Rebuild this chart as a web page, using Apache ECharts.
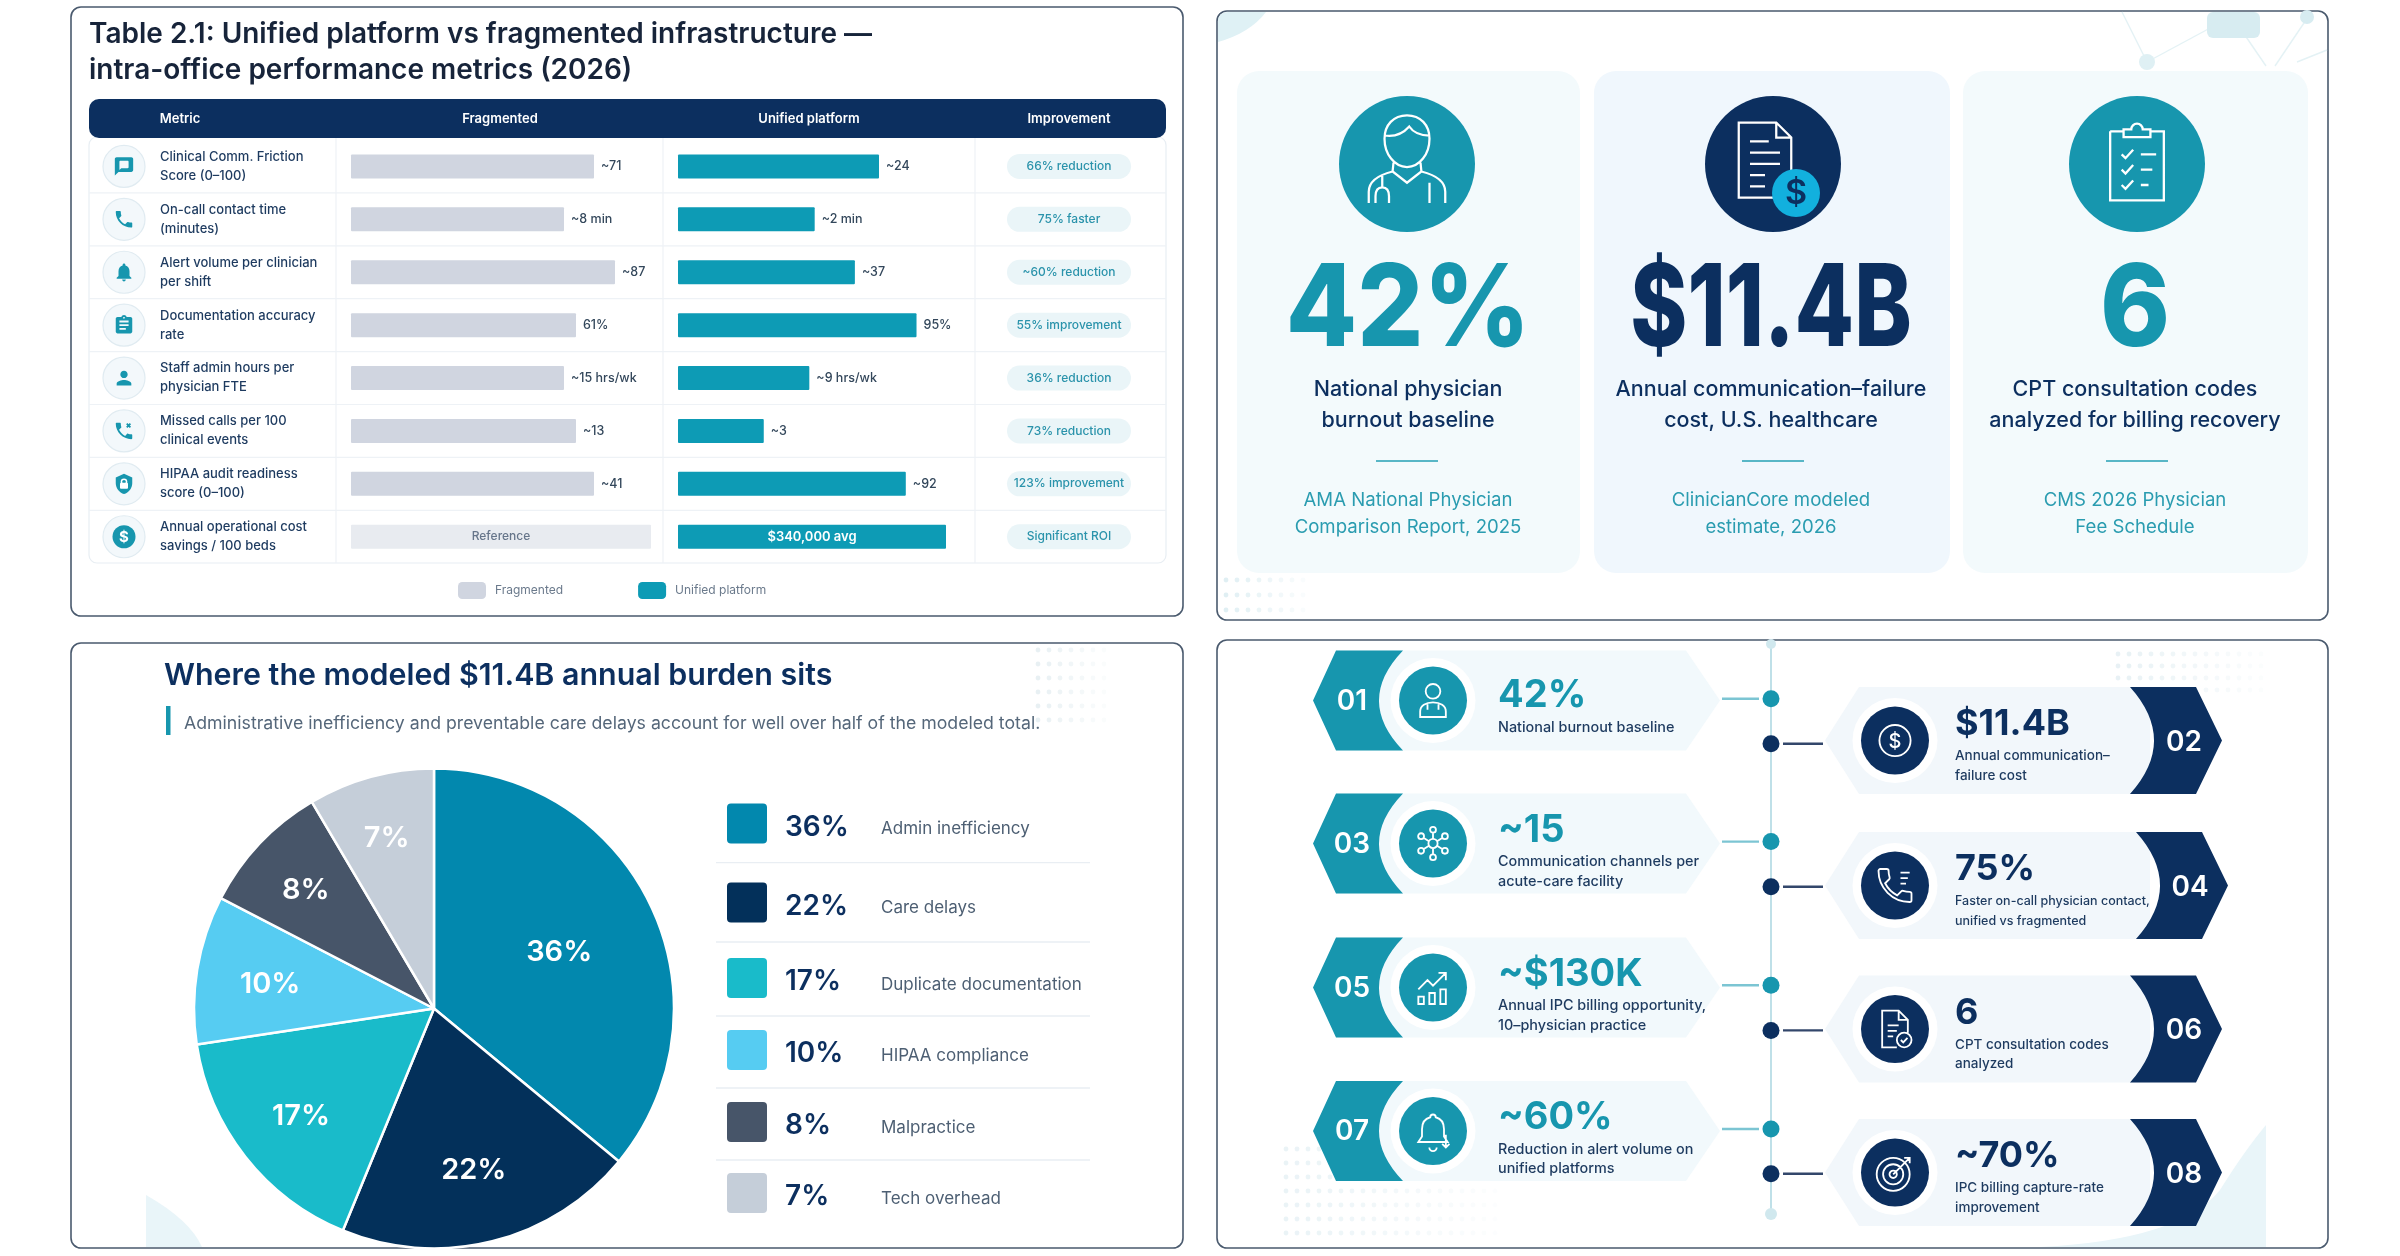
<!DOCTYPE html>
<html>
  <head>
    <meta charset="utf-8" />
    <title>Unified platform metrics</title>
    <script src="https://cdn.jsdelivr.net/npm/echarts@6/dist/echarts.min.js"></script>
    <style>
      html, body { margin: 0; padding: 0; background: #ffffff; }
      #main { width: 2400px; height: 1256px; }
    </style>
  </head>
  <body>
    <div id="main"></div>

    <script type="text/javascript">
      // Table 2.1
      const metrics = [
        'Clinical Comm. Friction\nScore (0–100)', 'On-call contact time\n(minutes)',
        'Alert volume per clinician\nper shift', 'Documentation accuracy\nrate',
        'Staff admin hours per\nphysician FTE', 'Missed calls per 100\nclinical events',
        'HIPAA audit readiness\nscore (0–100)', 'Annual operational cost\nsavings / 100 beds'
      ];
      // bar lengths as drawn in the picture (longest bar = 100)
      const fragmentedLevel = [81, 71, 88, 75, 71, 75, 81, 100];
      const unifiedLevel = [75, 51, 66, 89, 49, 32, 85, 100];
      const fragmentedLabels = ['~71', '~8 min', '~87', '61%', '~15 hrs/wk', '~13', '~41', 'Reference'];
      const unifiedLabels = ['~24', '~2 min', '~37', '95%', '~9 hrs/wk', '~3', '~92', '$340,000 avg'];
      const improvements = ['66% reduction', '75% faster', '~60% reduction', '55% improvement', '36% reduction', '73% reduction', '123% improvement', 'Significant ROI'];
      const tableHeaders = ['Metric', 'Fragmented', 'Unified platform', 'Improvement'];

      // stat cards
      const statValues = ['42%', '$11.4B', '6'];
      const statCaptions = ['National physician\nburnout baseline', 'Annual communication–failure\ncost, U.S. healthcare', 'CPT consultation codes\nanalyzed for billing recovery'];
      const statSources = ['AMA National Physician\nComparison Report, 2025', 'ClinicianCore modeled\nestimate, 2026', 'CMS 2026 Physician\nFee Schedule'];

      // burden pie: printed percentages, and the shares the slices actually take up in the picture
      const pieNames = ['Admin inefficiency', 'Care delays', 'Duplicate documentation', 'HIPAA compliance', 'Malpractice', 'Tech overhead'];
      const pieValues = [36, 22, 17, 10, 8, 7];
      const pieDrawnShare = [36, 20.2, 16.4, 10, 8.9, 8.5];

      // timeline
      const timelineNumbers = ['01', '02', '03', '04', '05', '06', '07', '08'];
      const timelineValues = ['42%', '$11.4B', '~15', '75%', '~$130K', '6', '~60%', '~70%'];
      const timelineNotes = [
        'National burnout baseline', 'Annual communication–\nfailure cost',
        'Communication channels per\nacute-care facility', 'Faster on-call physician contact,\nunified vs fragmented',
        'Annual IPC billing opportunity,\n10–physician practice', 'CPT consultation codes\nanalyzed',
        'Reduction in alert volume on\nunified platforms', 'IPC billing capture-rate\nimprovement'
      ];

      const FONT = 'Inter';
      const NAVY = '#0c2f5f';
      const TEAL = '#1796ae';
      const PIE_COLORS = ['#0288ae', '#03305a', '#19bbca', '#56ccf2', '#475569', '#c5ced9'];

      var myChart = echarts.init(document.getElementById('main'));
      const els = [];

      // ---- small helpers for the graphic layer
      let shapeCount = 0;
      function pathEl(d, style, x, y, scale) {
        const name = 'shape' + (shapeCount++);
        echarts.graphic.registerShape(name, echarts.graphic.extendPath(d, {}));
        return { type: name, x: x || 0, y: y || 0, scaleX: scale || 1, scaleY: scale || 1, style: style, silent: true };
      }
      function icon(d, cx, cy, size, style) {
        els.push(pathEl(d, style, cx - size / 2, cy - size / 2, size / 24));
      }
      function text(str, x, y, size, color, weight, align, lineHeight, squeeze) {
        els.push({
          type: 'text', x: x, y: y, silent: true, scaleX: squeeze || 1,
          style: {
            text: str, fill: color, fontFamily: FONT, fontSize: size, fontWeight: weight || 400,
            textAlign: align || 'left', textVerticalAlign: 'middle', align: align || 'left', verticalAlign: 'middle',
            lineHeight: lineHeight
          }
        });
      }
      function rect(x, y, w, h, r, fill, stroke, lw) {
        els.push({ type: 'rect', silent: true, shape: { x: x, y: y, width: w, height: h, r: r }, style: { fill: fill, stroke: stroke, lineWidth: lw || 0 } });
      }
      function line(x1, y1, x2, y2, color, lw) {
        els.push({ type: 'line', silent: true, shape: { x1: x1, y1: y1, x2: x2, y2: y2 }, style: { stroke: color, lineWidth: lw } });
      }
      function circle(cx, cy, r, fill, stroke, lw) {
        els.push({ type: 'circle', silent: true, shape: { cx: cx, cy: cy, r: r }, style: { fill: fill, stroke: stroke, lineWidth: lw || 0 } });
      }
      function dots(x0, y0, nx, ny, dx, dy, color) {
        for (let j = 0; j < ny; j++) {
          for (let i = 0; i < nx; i++) {
            els.push({ type: 'circle', silent: true, shape: { cx: x0 + i * dx, cy: y0 + j * dy, r: 2.4 }, style: { fill: color, opacity: 0.5 * (1 - i / nx) + 0.05 } });
          }
        }
      }
      const c = (x, y, r) => 'M' + x + ' ' + (y - r) + 'a' + r + ' ' + r + ' 0 1 0 .01 0z';

      // ---- icon outlines, 24 box
      const PHONE = 'M6.62 10.79c1.44 2.83 3.76 5.14 6.59 6.59l2.2-2.2c.27-.27.67-.36 1.02-.24 1.12.37 2.33.57 3.57.57.55 0 1 .45 1 1V20c0 .55-.45 1-1 1-9.39 0-17-7.61-17-17 0-.55.45-1 1-1h3.5c.55 0 1 .45 1 1 0 1.25.2 2.45.57 3.57.11.35.03.74-.25 1.02l-2.2 2.2z';
      const BELL = 'M12 22c1.1 0 2-.9 2-2h-4c0 1.1.89 2 2 2zm6-6v-5c0-3.07-1.64-5.64-4.5-6.32V4c0-.83-.67-1.5-1.5-1.5s-1.5.67-1.5 1.5v.68C7.63 5.36 6 7.92 6 11v5l-2 2v1h16v-1l-2-2z';
      const PERSON = 'M12 12c2.21 0 4-1.79 4-4s-1.79-4-4-4-4 1.79-4 4 1.79 4 4 4zm0 2c-2.67 0-8 1.34-8 4v2h16v-2c0-2.66-5.33-4-8-4z';
      const CHAT = 'M20 2H4c-1.1 0-2 .9-2 2v18l4-4h14c1.1 0 2-.9 2-2V4c0-1.1-.9-2-2-2z';
      const CLIP = 'M19 3h-4.18C14.4 1.84 13.3 1 12 1s-2.4.84-2.82 2H5c-1.1 0-2 .9-2 2v14c0 1.1.9 2 2 2h14c1.1 0 2-.9 2-2V5c0-1.1-.9-2-2-2zm-7 0c.55 0 1 .45 1 1s-.45 1-1 1-1-.45-1-1 .45-1 1-1zm2 14H7v-2h7v2zm3-4H7v-2h10v2zm0-4H7V7h10v2z';
      const SHIELD = 'M12 1L3 5v6c0 5.55 3.84 10.74 9 12 5.16-1.26 9-6.45 9-12V5l-9-4z';
      const DOCTOR = 'M12 2.5c-3 0-5 2.2-5 5.2 0 3.4 2.2 6.3 5 6.3s5-2.9 5-6.3c0-3-2-5.2-5-5.2zM7 7c2 .3 4-.3 5.5-2 .8 1.2 2.4 2 4.5 2M9 13l-.2 2 3.2 2.5 3.2-2.5L15 13M8.8 15C6 15.7 3.5 17 3.5 19.5V22M15.2 15c2.8.7 5.3 2 5.3 4.5V22M6.5 16v2.5M5 22v-1.5c0-1.5.7-2 1.500-2s1.5.5 1.5 2V22M17 17.500V22';
      const DOC = 'M5 2h10l4 4v16H5zM15 2v4h4M8 7h5M8 10h8M8 13h8M8 16h4M8 19h4';
      const CLIPCHECK = 'M5 4h3.5M15.5 4H19v18H5V4M8.5 5.500V3.500h2a1.5 1.5 0 0 1 3 0h2v2zM8 10l1 1 2-2.200M13 10h4M8 14l1 1 2-2.200M13 14h3M8 18l1 1 2-2.200M13 18h2';
      const DOCTOR_SMALL = c(12, 7, 4) + 'M5 21v-3c0-3 3-5 7-5s7 2 7 5v3zM9 14v3M15 14v3';
      const DOLLAR_RING = c(12, 12, 8.5);
      const NETWORK = c(12, 12, 2.5) + 'M12 9.500V6M12 14.500V18M9.800 10.800L7 9M14.200 10.800L17 9M9.800 13.200L7 15M14.200 13.200L17 15' + c(12, 4.5, 1.6) + c(12, 19.5, 1.6) + c(5.5, 8, 1.6) + c(18.5, 8, 1.6) + c(5.5, 16, 1.6) + c(18.5, 16, 1.6);
      const CHART = 'M4 13l5-5 3 3 7-7M15 4h4v4M4 21v-4h3v4zM10 21v-6h3v6zM16 21v-8h3v8z';
      const DOCCHECK = 'M13 22H5V2h9l5 5v7M14 2v5h5M8 10h6M8 13h5M8 16h3' + c(17, 18, 4) + 'M15.200 18l1.300 1.300 2.300-2.500';
      const BELL_DOWN = 'M12 3a1.500 1.500 0 0 1 1.500 1.500c3 .8 4.500 3.500 4.500 6.500v4l2 3H4l2-3v-4c0-3 1.500-5.700 4.500-6.500A1.500 1.500 0 0 1 12 3zM10 21a2 2 0 0 0 4 0M19 14v7M17 19l2 2 2-2';
      const TARGET = c(11, 13, 9) + c(11, 13, 5.5) + c(11, 13, 2) + 'M11 13L20 4M17 4h3v3';

      // ---- panels
      rect(71, 7, 1112, 609, 10, '#ffffff', '#4a5a6e', 1.6);
      rect(1217, 11, 1111, 609, 10, '#ffffff', '#4a5a6e', 1.6);
      rect(71, 643, 1112, 605, 10, '#ffffff', '#4a5a6e', 1.6);
      rect(1217, 640, 1111, 608, 10, '#ffffff', '#4a5a6e', 1.6);

      // ---- table panel
      const tableGridTop = 140, rowH = 52.9;
      rect(89, 137, 1077, 426, 8, '#ffffff', '#e8eef3', 1.2);
      rect(89, 99, 1077, 39, 10, NAVY);
      [180, 500, 809, 1069].forEach((x, i) => text(tableHeaders[i], x, 119, 13, '#ffffff', 600, 'center'));
      [336, 663, 975].forEach(x => line(x, 138, x, 563, '#eef2f6', 1.2));
      const rowIcons = [CHAT, PHONE, BELL, CLIP, PERSON, PHONE, SHIELD, null];
      metrics.forEach((m, i) => {
        const cy = tableGridTop + rowH * (i + 0.5);
        if (i > 0) line(89, tableGridTop + rowH * i, 1166, tableGridTop + rowH * i, '#eef2f6', 1.2);
        circle(124, cy, 21, '#f3f8fb', '#e0ebf1', 1.2);
        if (rowIcons[i]) icon(rowIcons[i], 124, cy, 22, { fill: TEAL });
        if (i === 0) { icon(CHAT, 124, cy - 1, 11, { fill: '#f3f8fb' }); }
        if (i === 5) { icon('M15 4l4 4M19 4l-4 4', 124, cy, 22, { stroke: TEAL, lineWidth: 2, fill: 'none' }); }
        if (i === 6) { rect(120, cy - 1, 8, 6, 1, '#ffffff'); circle(124, cy - 2, 2.6, 'none', '#ffffff', 1.5); }
        if (i === 7) { circle(124, cy, 11.5, TEAL); text('$', 124, cy + 1, 15, '#ffffff', 700, 'center'); }
        rect(1007, cy - 12.5, 124, 25, 12.5, '#eaf5f8');
        text(improvements[i], 1069, cy, 12, '#2a93ab', 500, 'center');
      });

      // ---- stat cards panel
      els.push(pathEl('M1218 42L1218 22Q1218 12 1228 12L1266 12Q1250 33 1218 42Z', { fill: '#dff1f5' }));
      [[2122, 12, 2147, 62], [2147, 62, 2225, 20], [2266, 66, 2240, 28], [2275, 66, 2306, 20], [2297, 62, 2327, 50]].forEach(p => line(p[0], p[1], p[2], p[3], '#e4f2f5', 1.4));
      circle(2147, 62, 8, '#dff0f4');
      circle(2307, 17, 7, '#d7ecf1');
      rect(2207, 12, 53, 26, 6, '#d7ecf1');
      dots(1226, 580, 8, 3, 11, 15, '#c7e2ea');
      const cardRects = [[1237, 343, '#f3fafc'], [1594, 356, '#f0f7fd'], [1963, 345, '#f3fafc']];
      const circleX = [1407, 1773, 2137];
      const statTextX = [1408, 1771, 2135];
      const statColor = [TEAL, NAVY, TEAL];
      const statSqueeze = [0.91, 0.76, 0.93];
      statValues.forEach((v, i) => {
        rect(cardRects[i][0], 71, cardRects[i][1], 502, 22, cardRects[i][2]);
        circle(circleX[i], 164, 68, statColor[i]);
        text(v, statTextX[i], 312, 114, statColor[i], 800, 'center', undefined, statSqueeze[i]);
        text(statCaptions[i], statTextX[i], 405.5, 21.5, NAVY, 500, 'center', 31);
        line(circleX[i] - 31, 461, circleX[i] + 31, 461, '#58b6c6', 2);
        text(statSources[i], statTextX[i], 513.5, 18.6, '#2a9cb0', 400, 'center', 27);
      });
      const lineIcon = (d, cx, cy, size, color, lw) => icon(d, cx, cy, size, { stroke: color, lineWidth: lw, fill: 'none' });
      lineIcon(DOCTOR, 1407, 158, 108, '#ffffff', 0.5);
      lineIcon(DOC, 1765, 160, 90, '#ffffff', 0.6);
      circle(1796, 193, 24, '#12b0de');
      text('$', 1796, 194, 34, NAVY, 600, 'center');
      lineIcon(CLIPCHECK, 2137, 162, 92, '#ffffff', 0.6);

      // ---- pie panel
      els.push(pathEl('M146 1195Q190 1220 202 1247L146 1247Z', { fill: '#e9f5f9' }));
      dots(1038, 650, 7, 6, 11, 14, '#d5e3ea');
      rect(166, 706, 4.5, 29, 0, TEAL);
      text('Administrative inefficiency and preventable care delays account for well over half of the modeled total.', 184, 724, 17.7, '#55677a', 400);
      const legendRow = [823.5, 902.5, 978, 1050, 1122, 1193];
      const percentRow = [828, 907, 982, 1054, 1126, 1197];
      const nameRow = [829, 908, 985, 1056, 1128, 1199];
      const legendRule = [862.6, 942, 1016, 1088, 1160];
      legendRule.forEach(y => line(716, y, 1090, y, '#e9eef3', 1.4));
      pieNames.forEach((n, i) => {
        rect(727, legendRow[i] - 20, 40, 40, 4, PIE_COLORS[i]);
        text(pieValues[i] + '%', 785, percentRow[i], 28, NAVY, 600);
        text(n, 881, nameRow[i], 17, '#4d5f73', 400);
      });

      // ---- timeline panel
      dots(2118, 654, 14, 4, 11, 12, '#d5e6ec');
      dots(1286, 1149, 20, 7, 11, 14, '#d8e9ef');
      els.push(pathEl('M2040 1247Q2180 1240 2220 1190Q2245 1150 2266 1125L2266 1247Z', { fill: '#e9f5f9' }));
      line(1771, 642, 1771, 1215, '#bfe0e8', 2);
      circle(1771, 644, 5, '#d0e8ee');
      circle(1771, 1214, 6, '#d0e8ee');

      const timelineIcons = [DOCTOR_SMALL, DOLLAR_RING, NETWORK, PHONE, CHART, DOCCHECK, BELL_DOWN, TARGET];
      const leftCenter = [700.5, 843.5, 987.5, 1131];
      const leftDot = [698.7, 841.6, 985.3, 1129];
      const rightCenter = [740.6, 885.5, 1029, 1172.5];
      const rightDot = [743.8, 886.7, 1030.4, 1173.7];
      for (let k = 0; k < 4; k++) {
        // odd-numbered cards, left of the spine
        let i = k * 2, cy = leftCenter[k], t = cy - 50, b = cy + 50;
        line(1722, leftDot[k], 1759, leftDot[k], '#7cc5d3', 2.4);
        circle(1771, leftDot[k], 8.5, TEAL);
        els.push(pathEl('M1336 ' + t + 'L1686 ' + t + 'L1720 ' + cy + 'L1686 ' + b + 'L1336 ' + b + 'Z', { fill: '#f2f9fc' }));
        els.push(pathEl('M1313 ' + cy + 'L1336 ' + t + 'L1403 ' + t + 'Q1355 ' + cy + ' 1403 ' + b + 'L1336 ' + b + 'Z', { fill: TEAL }));
        circle(1433, cy, 42.5, '#ffffff');
        circle(1433, cy, 34, TEAL);
        lineIcon(timelineIcons[i], 1433, cy, 44, '#ffffff', 1);
        text(timelineNumbers[i], 1352, cy + 1, 28, '#ffffff', 600, 'center');
        const two = timelineNotes[i].indexOf('\n') > 0;
        text(timelineValues[i], 1498, cy + (two ? -13 : -4.5), 38, TEAL, 700);
        text(timelineNotes[i], 1498, cy + (two ? 28 : 27), 14.4, '#1d3a5f', 500, 'left', 19.5);

        // even-numbered cards, right of the spine
        i = k * 2 + 1; cy = rightCenter[k]; t = cy - 53.5; b = cy + 53.5;
        const sh = k === 1 ? 6 : 0;
        line(1783, rightDot[k], 1823, rightDot[k], '#33476b', 2.4);
        circle(1771, rightDot[k], 8.5, NAVY);
        els.push(pathEl('M1825 ' + cy + 'L1859 ' + t + 'L2150 ' + t + 'L2150 ' + b + 'L1859 ' + b + 'Z', { fill: '#f2f7fb' }));
        els.push(pathEl('M' + (2130 + sh) + ' ' + t + 'L' + (2196 + sh) + ' ' + t + 'L' + (2222 + sh) + ' ' + cy + 'L' + (2196 + sh) + ' ' + b + 'L' + (2130 + sh) + ' ' + b + 'Q' + (2178 + sh) + ' ' + cy + ' ' + (2130 + sh) + ' ' + t + 'Z', { fill: NAVY }));
        circle(1895, cy, 42.5, '#ffffff');
        circle(1895, cy, 34, NAVY);
        lineIcon(timelineIcons[i], 1895, cy, 44, '#ffffff', 1);
        if (k === 0) text('$', 1895, cy + 1, 20, '#ffffff', 500, 'center');
        if (k === 1) { lineIcon('M15 5h5M15 8h4M15 11h3', 1895, cy, 44, '#ffffff', 1); }
        text(timelineNumbers[i], 2184 + sh, cy + 2, 28, '#ffffff', 600, 'center');
        text(timelineValues[i], 1955, cy - 16, 36, NAVY, 700);
        text(timelineNotes[i], 1955, cy + 25.5, k === 1 ? 12.5 : 13.5, '#1d3a5f', 500, 'left', 19.5);
      }

      // ---- pie label reach: distance of each label from the pie centre
      const PIE_X = 434, PIE_Y = 1008.5, PIE_R = 240;
      const labelReach = [135, 160, 165, 162, 172, 175];

      const barLabel = { fontFamily: FONT, fontSize: 12.5, color: '#33475b', fontWeight: 500, distance: 7, position: 'right' };

      const option = {
        animation: false,
        backgroundColor: '#ffffff',
        textStyle: { fontFamily: FONT },
        title: [
          {
            text: 'Table 2.1: Unified platform vs fragmented infrastructure —\nintra-office performance metrics (2026)',
            left: 89, top: 17, padding: 0,
            textStyle: { fontFamily: FONT, fontSize: 28, fontWeight: 600, color: '#17243a', lineHeight: 36 }
          },
          {
            text: 'Where the modeled $11.4B annual burden sits',
            left: 164, top: 657, padding: 0,
            textStyle: { fontFamily: FONT, fontSize: 30.4, fontWeight: 600, color: NAVY, lineHeight: 38 }
          }
        ],
        legend: {
          left: 458, top: 582, itemWidth: 28, itemHeight: 17, itemGap: 75, padding: 0,
          selectedMode: false,
          icon: 'roundRect',
          data: ['Fragmented', 'Unified platform'],
          textStyle: { fontFamily: FONT, fontSize: 12, color: '#6b7a8c', padding: [0, 0, 0, 4] }
        },
        grid: [
          { left: 351, top: tableGridTop, width: 300, height: rowH * 8 },
          { left: 678, top: tableGridTop, width: 268, height: rowH * 8 }
        ],
        xAxis: [
          { type: 'value', gridIndex: 0, min: 0, max: 100, show: false },
          { type: 'value', gridIndex: 1, min: 0, max: 100, show: false }
        ],
        yAxis: [
          {
            type: 'category', gridIndex: 0, inverse: true, data: metrics,
            axisLine: { show: false }, axisTick: { show: false },
            axisLabel: { align: 'left', margin: 191, interval: 0, fontFamily: FONT, fontSize: 13, fontWeight: 500, color: '#1d3a5f', lineHeight: 19 }
          },
          { type: 'category', gridIndex: 1, inverse: true, data: metrics, show: false }
        ],
        series: [
          {
            name: 'Fragmented', type: 'bar', xAxisIndex: 0, yAxisIndex: 0, barWidth: 24,
            itemStyle: { color: '#d0d5e0', borderRadius: 1 },
            label: Object.assign({ show: true, formatter: p => fragmentedLabels[p.dataIndex] }, barLabel),
            data: fragmentedLevel.map((v, i) => i < 7 ? v : {
              value: v, itemStyle: { color: '#e8ebf0' },
              label: { position: 'inside', color: '#66758a', fontSize: 12 }
            })
          },
          {
            name: 'Unified platform', type: 'bar', xAxisIndex: 1, yAxisIndex: 1, barWidth: 24,
            itemStyle: { color: '#0d9bb5', borderRadius: 1 },
            label: Object.assign({ show: true, formatter: p => unifiedLabels[p.dataIndex] }, barLabel),
            data: unifiedLevel.map((v, i) => i < 7 ? v : {
              value: v, label: { position: 'inside', color: '#ffffff', fontSize: 13, fontWeight: 600 }
            })
          },
          {
            type: 'pie', center: [PIE_X, PIE_Y], radius: [0, PIE_R], startAngle: 90, clockwise: true,
            itemStyle: { borderColor: '#ffffff', borderWidth: 2.5 },
            label: { show: true, position: 'inside', formatter: p => pieValues[p.dataIndex] + '%', color: '#ffffff', fontFamily: FONT, fontSize: 29, fontWeight: 600 },
            labelLine: { show: false },
            // 'inside' sits at half the radius: push each label out to where it is in the picture
            labelLayout: function (p) {
              const cx = p.labelRect.x + p.labelRect.width / 2;
              const cy = p.labelRect.y + p.labelRect.height / 2;
              const k = labelReach[p.dataIndex] / (PIE_R / 2) - 1;
              return { dx: (cx - PIE_X) * k, dy: (cy - PIE_Y) * k + 3 };
            },
            data: pieDrawnShare.map((v, i) => ({ name: pieNames[i], value: v, itemStyle: { color: PIE_COLORS[i] } }))
          }
        ],
        graphic: { elements: els }
      };

      myChart.setOption(option);
    </script>
  </body>
</html>
